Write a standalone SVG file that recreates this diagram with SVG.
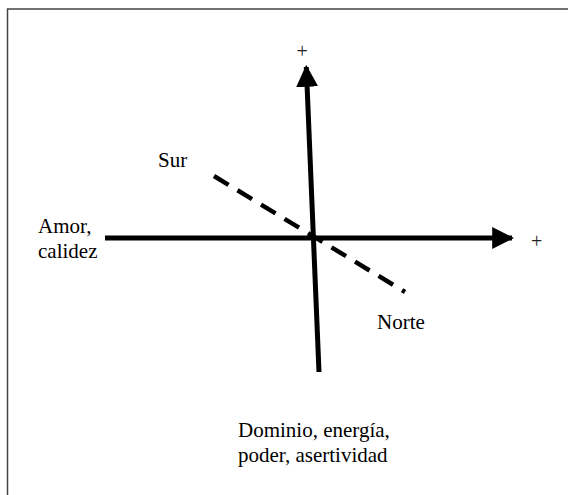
<svg xmlns="http://www.w3.org/2000/svg" width="568" height="495" viewBox="0 0 568 495">
<style>
text{font-family:"Liberation Serif","Times New Roman",serif;fill:#000}
.lbl{font-size:21px}
.plus{font-size:20px;fill:#222}
.axis{stroke:#000;stroke-width:5;fill:none}
</style>
<defs>
<marker id="ah" viewBox="0 0 10 10" refX="9" refY="5" markerWidth="4.4" markerHeight="4.4" orient="auto" markerUnits="strokeWidth">
<path d="M0,0 L10,5 L0,10 z" fill="#000"/>
</marker>
</defs>
<rect x="0" y="0" width="568" height="495" fill="#fff"/>
<path d="M7.5,600 L7.5,9 L600,9" fill="none" stroke="#444" stroke-width="1.5"/>
<g id="connectors">
<line class="axis" x1="105" y1="238" x2="512" y2="238" marker-end="url(#ah)"/>
<line class="axis" x1="319" y1="372" x2="306.3" y2="67" marker-end="url(#ah)"/>
<line x1="214" y1="176" x2="405" y2="292" stroke="#000" stroke-width="4.5" stroke-dasharray="17,10.5"/>
</g>
<g id="plus-top"><text class="plus" x="296.5" y="58">+</text></g>
<g id="plus-right"><text class="plus" x="531" y="248">+</text></g>
<g id="sur"><text class="lbl" x="158" y="167">Sur</text></g>
<g id="amor"><text class="lbl" x="38" y="233">Amor,</text><text class="lbl" x="38" y="258">calidez</text></g>
<g id="norte"><text class="lbl" x="377" y="329">Norte</text></g>
<g id="dominio"><text class="lbl" x="238" y="437">Dominio, energía,</text><text class="lbl" x="238" y="462">poder, asertividad</text></g>
</svg>
